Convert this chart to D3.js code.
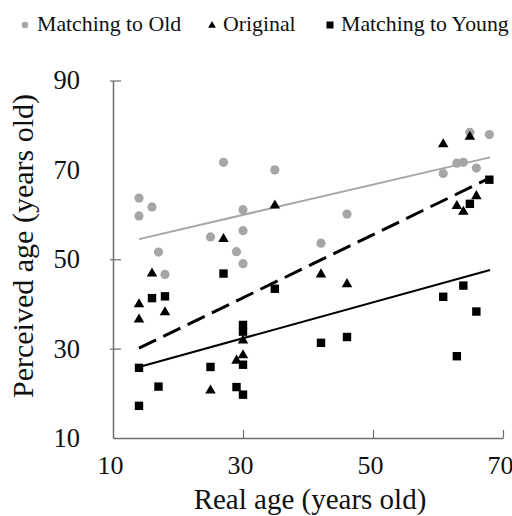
<!DOCTYPE html>
<html><head><meta charset="utf-8">
<script src="https://cdn.jsdelivr.net/npm/d3@7"></script>
<style>html,body{margin:0;padding:0;background:#fff;}svg{display:block;}</style>
</head><body>
<svg id="chart" width="512" height="516"></svg>
<script>
// ---- data ----
const seriesNames = ["Matching to Old", "Original", "Matching to Young"];
const xTicks = [10, 30, 50, 70];
const yTicks = [10, 30, 50, 70, 90];
const oldPoints = [[14,63.7],[14,59.7],[16,61.7],[17,51.6],[18,46.6],[25,55.0],[27,71.7],[29,51.7],[30,61.1],[30,56.4],[30,49.0],[34.9,70.0],[42,53.6],[46,60.1],[60.8,69.2],[62.9,71.5],[63.9,71.7],[64.9,78.4],[65.9,70.4],[67.9,77.9]];
const originalPoints = [[14,40.1],[14,36.7],[16,47.0],[18,38.3],[25,20.8],[27,54.7],[29,27.5],[30,32.0],[30,28.7],[34.9,62.2],[42,46.8],[46,44.6],[60.8,75.9],[62.9,62.1],[63.9,60.8],[64.9,77.6],[65.9,64.3]];
const youngPoints = [[14,25.7],[14,17.2],[16,41.3],[17,21.5],[18,41.7],[25,25.9],[27,46.8],[29,21.4],[30,35.3],[30,33.8],[30,26.4],[30,19.7],[34.9,43.4],[42,31.3],[46,32.6],[60.8,41.6],[62.9,28.3],[63.9,44.1],[64.9,62.4],[65.9,38.3],[67.9,67.8]];
const oldTrend = [[14,54.5],[68,72.8]];
const originalTrend = [[14,30.1],[68,68.2]];
const youngTrend = [[14,25.9],[68,47.6]];

// ---- layout ----
const svg = d3.select("#chart");
const x = d3.scaleLinear().domain([10,70]).range([113,503]);
const y = d3.scaleLinear().domain([10,90]).range([438,80.5]);
const grey = "#a6a6a6";
const axisColor = "#6e6e6e";
const font = "'Liberation Serif','Times New Roman',serif";

// axes
const xAxis = svg.append("g").attr("transform","translate(0,438)")
  .call(d3.axisBottom(x).tickValues(xTicks).tickSizeInner(-8).tickSizeOuter(0).tickPadding(22));
xAxis.select(".domain").attr("stroke",axisColor).attr("stroke-width",1.5);
xAxis.selectAll(".tick line").attr("stroke",axisColor).attr("stroke-width",1.2)
  .attr("display",d=>d===10?"none":null);
xAxis.selectAll(".tick text").attr("font-family",font).attr("font-size",26).attr("fill","#111")
  .attr("dx",-3).attr("dy","0.55em");

const yAxis = svg.append("g").attr("transform","translate(113,0)")
  .call(d3.axisLeft(y).tickValues(yTicks).tickSizeInner(3).tickSizeOuter(0).tickPadding(30));
yAxis.select(".domain").attr("stroke",axisColor).attr("stroke-width",1.5);
yAxis.selectAll(".tick line").attr("stroke",axisColor).attr("stroke-width",1.2)
  .attr("x1",-3).attr("x2",8)
  .attr("display",d=>(d===10||d===70)?"none":null);
yAxis.selectAll(".tick text").attr("font-family",font).attr("font-size",26.5).attr("fill","#111");

// axis titles
svg.append("text").attr("x",310).attr("y",509).attr("text-anchor","middle")
  .attr("font-family",font).attr("font-size",29).attr("fill","#111").text("Real age (years old)");
svg.append("text").attr("transform","translate(33,246) rotate(-90)").attr("text-anchor","middle")
  .attr("font-family",font).attr("font-size",30).attr("fill","#111").text("Perceived age (years old)");

// trend lines
const line = d3.line().x(d=>x(d[0])).y(d=>y(d[1]));
svg.append("path").datum(oldTrend).attr("d",line).attr("stroke",grey).attr("stroke-width",2).attr("fill","none");
svg.append("path").datum(originalTrend).attr("d",line).attr("stroke","#000").attr("stroke-width",3)
  .attr("stroke-dasharray","19,8").attr("fill","none");
svg.append("path").datum(youngTrend).attr("d",line).attr("stroke","#000").attr("stroke-width",2).attr("fill","none");

// markers
const tri = d3.symbol().type(d3.symbolTriangle).size(48);
svg.append("g").selectAll("circle").data(oldPoints).join("circle")
  .attr("cx",d=>x(d[0])).attr("cy",d=>y(d[1])).attr("r",4.6).attr("fill",grey);
svg.append("g").selectAll("path").data(originalPoints).join("path")
  .attr("d",tri).attr("transform",d=>`translate(${x(d[0])},${y(d[1])+0.8})`).attr("fill","#000");
svg.append("g").selectAll("rect").data(youngPoints).join("rect")
  .attr("x",d=>x(d[0])-4.2).attr("y",d=>y(d[1])-4.2).attr("width",8.4).attr("height",8.4).attr("fill","#000");

// legend
const legend = svg.append("g");
const legendX = [25, 212, 330];
const legendTextX = [37, 223, 341];
legend.append("circle").attr("cx",legendX[0]).attr("cy",25).attr("r",3.2).attr("fill",grey);
legend.append("path").attr("d",d3.symbol().type(d3.symbolTriangle).size(26)).attr("transform",`translate(${legendX[1]},25.5)`).attr("fill","#000");
legend.append("rect").attr("x",legendX[2]-3.5).attr("y",21.5).attr("width",7).attr("height",7).attr("fill","#000");
legend.selectAll("text").data(seriesNames).join("text")
  .attr("x",(d,i)=>legendTextX[i]).attr("y",31).attr("font-family",font).attr("font-size",21.8).attr("fill","#111")
  .text(d=>d);
</script>
</body></html>
